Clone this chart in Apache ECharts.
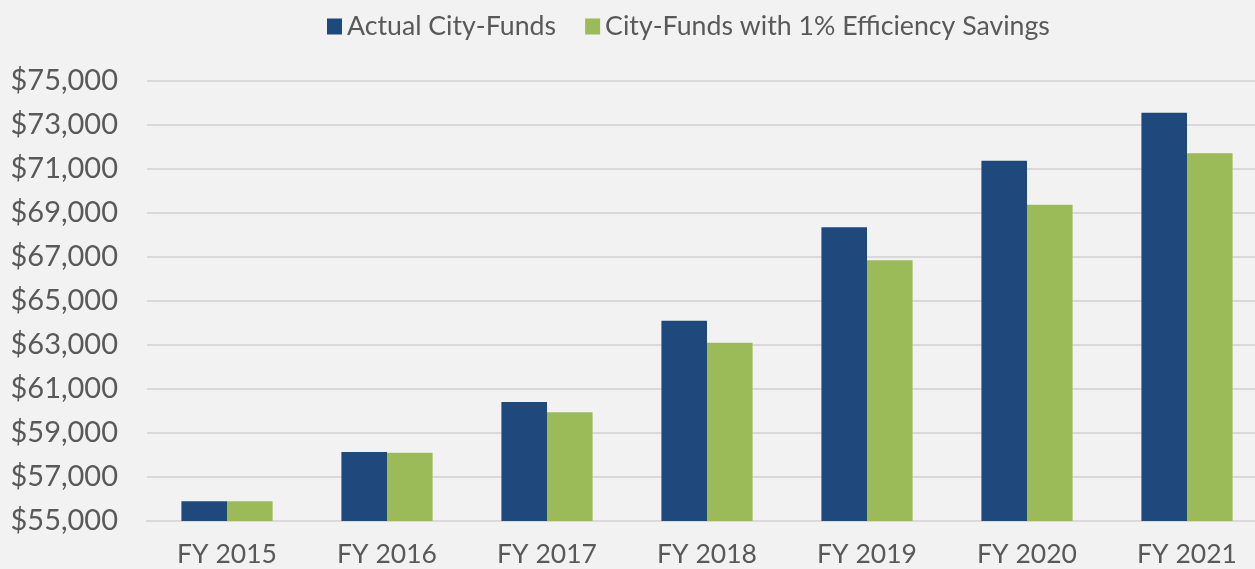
<!DOCTYPE html>
<html>
<head>
<meta charset="utf-8">
<script src="https://cdn.jsdelivr.net/npm/echarts@6/dist/echarts.min.js"></script>
<style>
  html, body { margin: 0; padding: 0; background: #f2f2f2; overflow: hidden; }
  /* the plot area runs a little past the right edge of the window */
  #chart { width: 1267px; height: 569px; }
</style>
</head>
<body>
<div id="chart"></div>
<script>
// fiscal years on the x axis
var years = ['FY 2015', 'FY 2016', 'FY 2017', 'FY 2018', 'FY 2019', 'FY 2020', 'FY 2021'];
// values (thousands of dollars)
var actualFunds = [55900, 58140, 60410, 64100, 68350, 71380, 73560];
var savingsFunds = [55900, 58100, 59940, 63100, 66850, 69380, 71720];
var seriesNames = ['Actual City-Funds', 'City-Funds with 1% Efficiency Savings'];

var myChart = echarts.init(document.getElementById('chart'));

var option = {
    backgroundColor: '#f2f2f2',
    textStyle: { fontFamily: 'Lato' },
    legend: {
        top: 8,
        left: 322,
        icon: 'rect',
        itemWidth: 15,
        itemHeight: 16,
        itemGap: 29,
        textStyle: { color: '#595959', fontSize: 26.7, fontFamily: 'Lato' },
        data: seriesNames
    },
    grid: {
        left: 147,
        right: 0,
        top: 81,
        bottom: 48,
        containLabel: false
    },
    xAxis: {
        type: 'category',
        data: years,
        axisLine: { lineStyle: { color: '#d9d9d9', width: 2 } },
        axisTick: { show: false },
        axisLabel: { color: '#595959', fontSize: 26.5, margin: 20 }
    },
    yAxis: {
        type: 'value',
        min: 55000,
        max: 75000,
        interval: 2000,
        axisLine: { show: false },
        axisTick: { show: false },
        splitLine: { lineStyle: { color: '#d9d9d9', width: 2 } },
        axisLabel: {
            color: '#595959',
            fontSize: 29,
            margin: 29,
            formatter: function (v) {
                return '$' + v.toLocaleString('en-US');
            }
        }
    },
    series: [
        {
            name: seriesNames[0],
            type: 'bar',
            data: actualFunds,
            barGap: '0%',
            barCategoryGap: '43%',
            itemStyle: { color: '#1f497d' }
        },
        {
            name: seriesNames[1],
            type: 'bar',
            data: savingsFunds,
            itemStyle: { color: '#9bbb59' }
        }
    ]
};
myChart.setOption(option);
</script>
</body>
</html>
